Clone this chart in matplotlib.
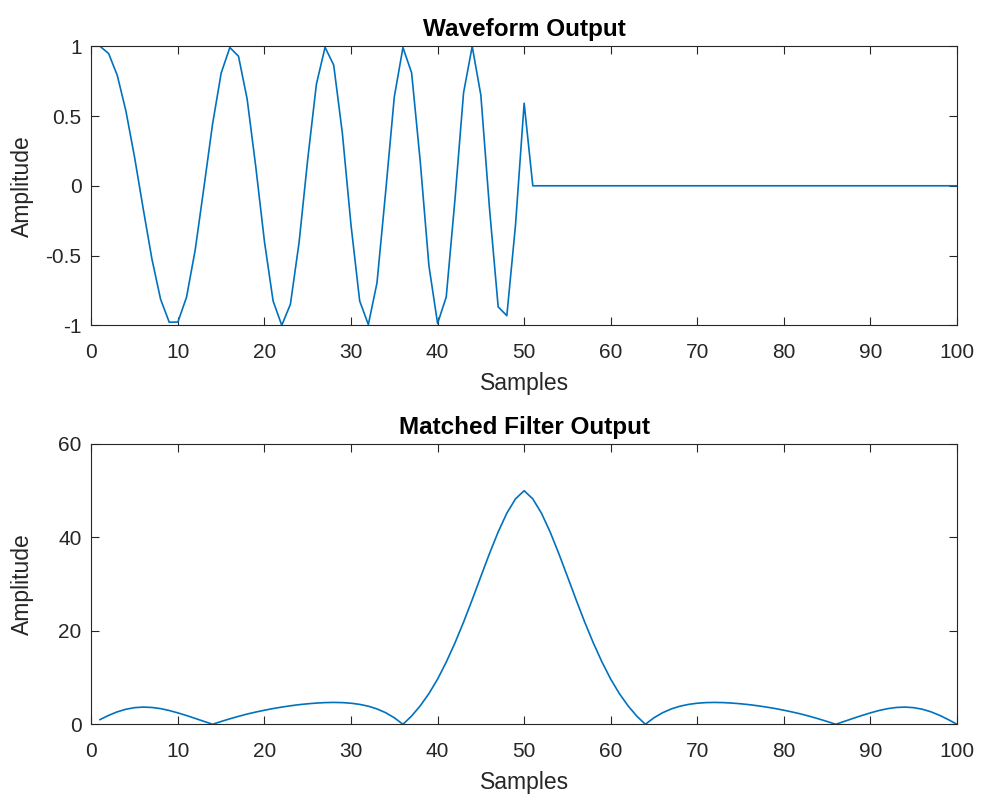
import matplotlib
matplotlib.use('Agg')
import matplotlib.pyplot as plt

plt.rcParams['font.family'] = ['Liberation Sans', 'DejaVu Sans']
plt.rcParams['axes.unicode_minus'] = False

# waveform (real part of the chirp), samples 1..100
samples = list(range(1, 101))
waveform = [1.000, 0.948, 0.791, 0.535, 0.203, -0.167, -0.525, -0.813, -0.978, -0.977,
            -0.798, -0.460, -0.015, 0.440, 0.808, 0.991, 0.929, 0.622, 0.135, -0.400,
            -0.826, -1.000, -0.849, -0.406, 0.191, 0.728, 0.993, 0.865, 0.377, -0.282,
            -0.825, -0.995, -0.696, -0.044, 0.637, 0.991, 0.810, 0.172, -0.573, -0.987,
            -0.797, -0.104, 0.666, 1.000, 0.649, -0.164, -0.868, -0.931, -0.283, 0.592] + [0.0] * 50

# matched filter output magnitude, samples 1..100
matched = [1.00, 1.91, 2.67, 3.22, 3.56, 3.68, 3.60, 3.35, 2.95, 2.44,
           1.87, 1.26, 0.63, 0.00, 0.60, 1.17, 1.70, 2.19, 2.62, 3.01,
           3.37, 3.68, 3.96, 4.20, 4.39, 4.54, 4.64, 4.68, 4.64, 4.51,
           4.26, 3.87, 3.29, 2.48, 1.40, 0.00, 1.77, 3.96, 6.57, 9.67,
           13.30, 17.38, 21.86, 26.67, 31.64, 36.56, 41.18, 45.19, 48.25, 50.00,
           48.25, 45.19, 41.18, 36.56, 31.64, 26.67, 21.86, 17.38, 13.30, 9.67,
           6.57, 3.96, 1.77, 0.00, 1.40, 2.48, 3.29, 3.87, 4.26, 4.51,
           4.64, 4.68, 4.64, 4.54, 4.39, 4.20, 3.96, 3.68, 3.37, 3.01,
           2.62, 2.19, 1.70, 1.17, 0.60, 0.00, 0.63, 1.26, 1.87, 2.44,
           2.95, 3.35, 3.60, 3.68, 3.56, 3.22, 2.67, 1.91, 1.00, 0.00]

line_color = '#0072BD'
edge = '#262626'

fig = plt.figure(figsize=(9.82, 8.02), dpi=100)
ax1 = fig.add_axes([0.093, 0.5944, 0.8815, 0.3479])
ax2 = fig.add_axes([0.093, 0.0969, 0.8815, 0.3495])

def style(ax):
    for sp in ax.spines.values():
        sp.set_color(edge)
        sp.set_linewidth(0.8)
    ax.tick_params(direction='in', top=True, right=True, length=6, width=0.8,
                   colors=edge, labelsize=15)
    ax.tick_params(axis='x', pad=12.5)
    ax.tick_params(axis='y', pad=7)
    ax.set_xlim(0, 100)
    ax.set_xticks(range(0, 101, 10))
    ax.set_xlabel('Samples', fontsize=16.5, color=edge, labelpad=7.5)
    ax.set_ylabel('Amplitude', fontsize=16.5, color=edge)
    ax.yaxis.set_label_coords(-0.066, 0.5)

ax1.plot(samples, waveform, color=line_color, lw=1.2)
style(ax1)
ax1.set_ylim(-1, 1)
ax1.set_yticks([-1, -0.5, 0, 0.5, 1])
ax1.set_yticklabels(['-1', '-0.5', '0', '0.5', '1'])
ax1.set_title('Waveform Output', fontsize=17.5, fontweight='bold', pad=7.5)

ax2.plot(samples, matched, color=line_color, lw=1.2)
style(ax2)
ax2.set_ylim(0, 60)
ax2.set_yticks([0, 20, 40, 60])
ax2.set_title('Matched Filter Output', fontsize=17.5, fontweight='bold', pad=7.5)

fig.savefig('out.png', dpi=100)
